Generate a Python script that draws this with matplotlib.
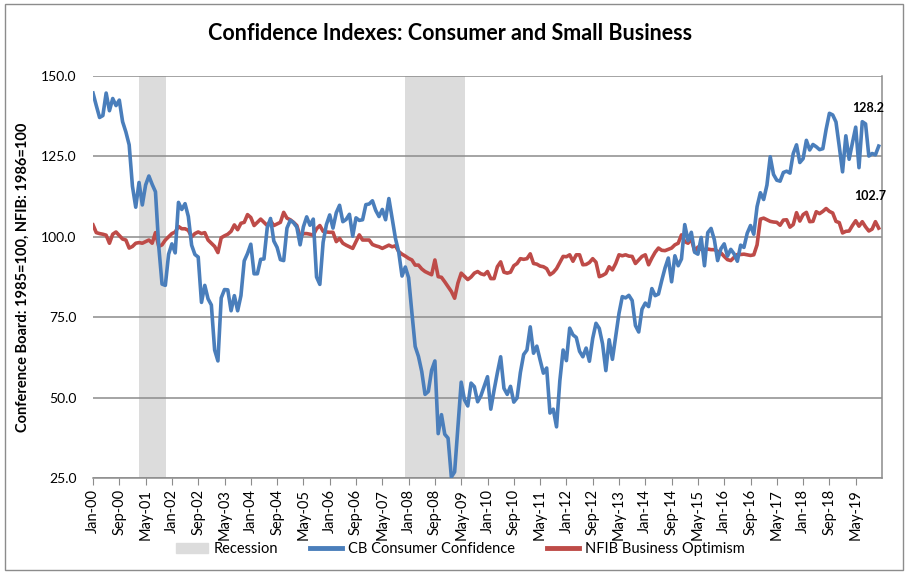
import pandas as pd
import matplotlib.pyplot as plt
from matplotlib.patches import Patch, Rectangle
from matplotlib.lines import Line2D

# monthly series, Jan-2000 .. Dec-2019
cb_confidence = [
    144.7, 140.8, 137.1, 137.7, 144.7, 139.2, 143.0, 140.8, 142.5, 135.8, 132.6, 128.6,
    115.7, 109.2, 116.9, 109.9, 116.1, 118.9, 116.3, 114.0, 97.0, 85.3, 84.9, 94.6,
    97.8, 95.0, 110.7, 108.5, 110.3, 106.3, 97.4, 94.5, 93.7, 79.6, 84.9, 80.7,
    78.8, 64.8, 61.4, 81.0, 83.6, 83.5, 77.0, 81.7, 77.0, 81.7, 92.5, 94.8,
    97.7, 88.5, 88.5, 93.0, 93.1, 102.8, 105.7, 98.7, 96.7, 92.9, 92.6, 102.7,
    105.1, 104.4, 103.0, 97.5, 103.1, 106.2, 103.6, 105.5, 87.5, 85.2, 98.3, 103.8,
    106.8, 102.7, 107.5, 109.8, 104.7, 105.4, 107.0, 100.2, 105.9, 105.1, 105.3, 110.0,
    110.2, 111.2, 108.2, 106.3, 108.5, 105.3, 111.9, 105.6, 99.5, 95.2, 87.8, 90.6,
    87.3, 76.4, 65.9, 62.8, 58.1, 51.0, 51.9, 58.5, 61.4, 38.8, 44.7, 38.6,
    37.4, 25.3, 26.9, 40.8, 54.8, 49.3, 47.4, 54.5, 53.4, 48.7, 50.6, 53.6,
    56.5, 46.4, 52.3, 57.7, 62.7, 52.9, 51.0, 53.5, 48.6, 49.9, 57.8, 63.4,
    64.8, 72.0, 63.8, 66.0, 61.7, 57.6, 59.2, 45.2, 46.4, 40.9, 55.2, 64.8,
    61.5, 71.6, 69.5, 68.7, 64.4, 62.7, 65.4, 61.3, 68.4, 73.1, 71.5, 66.7,
    58.4, 68.0, 61.9, 69.0, 76.2, 81.4, 81.0, 81.8, 80.2, 72.4, 70.4, 77.5,
    79.4, 78.3, 83.9, 81.7, 82.2, 86.4, 90.3, 93.4, 86.0, 94.1, 91.0, 93.1,
    103.8, 98.8, 101.4, 95.2, 94.6, 99.8, 91.0, 101.3, 102.6, 99.1, 92.6, 96.3,
    97.8, 94.0, 96.1, 94.7, 92.4, 97.4, 96.7, 101.1, 103.5, 100.8, 109.4, 113.7,
    111.6, 116.1, 124.9, 119.4, 117.6, 117.3, 120.0, 120.4, 119.8, 125.9, 128.6, 123.1,
    124.3, 130.0, 127.0, 128.7, 128.0, 127.1, 127.4, 133.4, 138.4, 137.9, 135.7, 128.1,
    120.2, 131.4, 124.1, 129.2, 134.1, 121.5, 135.8, 135.1, 125.1, 125.9, 125.5, 128.2,
]

nfib_optimism = [
    103.7, 101.3, 101.0, 100.8, 100.5, 98.0, 100.8, 101.5, 100.4, 99.3, 99.0, 96.5,
    97.0, 98.0, 98.2, 98.0, 98.5, 99.0, 98.0, 101.3, 97.0, 97.5, 99.0, 100.0,
    101.0, 101.5, 103.2, 102.5, 102.5, 102.0, 100.0, 101.0, 101.5, 101.0, 101.3, 99.0,
    98.0, 97.0, 95.1, 99.7, 100.3, 100.8, 101.7, 103.7, 102.2, 104.2, 104.5, 106.9,
    106.0, 103.5, 104.5, 105.5, 104.5, 103.5, 105.0, 103.5, 104.0, 104.5, 107.6, 105.8,
    105.3, 104.5, 103.5, 100.0, 101.0, 101.0, 100.8, 100.5, 102.5, 103.5, 101.7, 101.5,
    101.4, 101.4, 98.5, 99.5, 98.0, 97.4, 96.9, 96.4, 98.5, 100.6, 99.0, 99.0,
    99.0, 97.6, 97.2, 96.9, 96.4, 96.9, 97.4, 96.9, 97.2, 95.4, 94.6, 94.0,
    93.3, 92.8, 91.2, 91.2, 90.0, 89.2, 88.7, 88.2, 92.8, 87.6, 87.4, 86.0,
    84.5, 83.0, 80.9, 85.6, 88.7, 87.7, 86.7, 87.5, 88.7, 89.2, 88.5, 88.2,
    89.2, 87.0, 87.0, 90.7, 92.2, 89.0, 88.7, 89.0, 91.0, 91.7, 93.2, 93.0,
    93.2, 94.7, 91.7, 91.5, 90.9, 90.7, 90.1, 88.2, 88.9, 90.1, 92.0, 93.9,
    93.8, 94.4, 92.4, 94.4, 94.4, 91.3, 91.4, 92.0, 93.2, 92.1, 87.6, 88.0,
    88.6, 90.7, 89.7, 91.7, 94.4, 94.1, 94.4, 94.0, 93.9, 91.7, 92.8, 93.9,
    94.4, 91.3, 93.4, 95.2, 96.5, 95.8, 95.7, 96.1, 96.5, 97.5, 98.0, 100.6,
    98.5, 98.0, 99.4, 95.5, 96.8, 96.1, 96.0, 96.2, 96.0, 96.0, 95.5, 95.0,
    93.9, 92.9, 92.6, 93.6, 94.5, 94.5, 94.6, 94.4, 94.2, 94.4, 97.5, 105.5,
    105.8, 105.3, 104.8, 104.6, 104.5, 103.6, 105.2, 105.3, 103.0, 103.8, 107.5, 104.9,
    106.9, 107.6, 104.7, 104.8, 107.8, 107.2, 107.9, 108.8, 107.9, 107.4, 104.8, 104.4,
    101.2, 101.7, 101.8, 103.5, 105.0, 103.3, 104.7, 103.1, 101.8, 102.4, 104.7, 102.7,
]

recession_start = ["2001-03", "2007-12"]
recession_end = ["2001-11", "2009-06"]

dates = pd.date_range("2000-01-01", periods=len(cb_confidence), freq="MS")
idx = list(range(len(dates)))

BLUE = "#4A7EBB"
RED = "#BE4B48"
GRAY = "#DCDCDC"

plt.rcParams["font.family"] = ["Lato", "DejaVu Sans"]

fig = plt.figure(figsize=(9.08, 5.73), dpi=100)
ax = fig.add_axes([93 / 908, 1 - 478 / 573, 789 / 908, 402 / 573])

# recession shading
for s, e in zip(recession_start, recession_end):
    i0 = dates.get_loc(pd.Timestamp(s + "-01"))
    i1 = dates.get_loc(pd.Timestamp(e + "-01"))
    ax.axvspan(i0, i1 + 0.3, color=GRAY, lw=0, zorder=0)

ax.plot(idx, cb_confidence, color=BLUE, lw=2.6, zorder=3, solid_joinstyle="round")
ax.plot(idx, nfib_optimism, color=RED, lw=2.6, zorder=2, solid_joinstyle="round")

ax.set_ylim(25, 150)
ax.set_xlim(0, 240)
ax.set_yticks([25, 50, 75, 100, 125, 150])
ax.set_yticklabels(["%.1f" % v for v in [25, 50, 75, 100, 125, 150]], fontsize=10)
ax.yaxis.grid(True, color="#8C8C8C", lw=1.1)
ax.set_axisbelow(True)
ax.tick_params(axis="y", length=0, pad=12)

ticks = idx[::8]
ax.set_xticks(ticks)
ax.set_xticklabels([d.strftime("%b-%y") for d in dates[::8]], rotation=90, fontsize=10.5)
ax.tick_params(axis="x", length=5, color="#8C8C8C", pad=3)

for side in ["top", "left"]:
    ax.spines[side].set_visible(False)
for side in ["right", "bottom"]:
    ax.spines[side].set_color("#8C8C8C")
    ax.spines[side].set_linewidth(1.1)

ax.set_ylabel("Conference Board: 1985=100, NFIB: 1986=100", fontsize=10.5,
              fontweight="bold", labelpad=8)

ax.text(idx[-1] - 3.3, cb_confidence[-1] + 12, "%.1f" % cb_confidence[-1],
        fontsize=9, fontweight="bold", ha="center", va="center")
ax.text(idx[-1] - 2.6, nfib_optimism[-1] + 10, "%.1f" % nfib_optimism[-1],
        fontsize=9, fontweight="bold", ha="center", va="center")

fig.text(0.496, 1 - 33 / 573, "Confidence Indexes: Consumer and Small Business",
         fontsize=15.5, fontweight="bold", ha="center", va="center")

handles = [Patch(color=GRAY), Line2D([], [], color=BLUE, lw=3.5),
           Line2D([], [], color=RED, lw=3.5)]
fig.legend(handles, ["Recession", "CB Consumer Confidence", "NFIB Business Optimism"],
           loc="center", bbox_to_anchor=(0.507, 1 - 549 / 573), ncol=3, frameon=False,
           fontsize=10.5, handlelength=2.2, columnspacing=2.2, handletextpad=0.4)

fig.patches.append(Rectangle((5 / 908, 3 / 573), 898 / 908, 566 / 573,
                             transform=fig.transFigure, fill=False,
                             edgecolor="#8C8C8C", lw=1))

fig.savefig("out.png", dpi=100)
